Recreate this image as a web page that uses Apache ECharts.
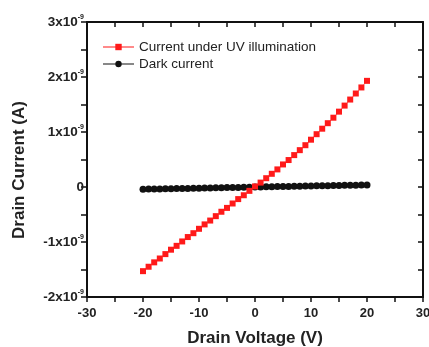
<!DOCTYPE html>
<html>
<head>
<meta charset="utf-8">
<script src="https://cdn.jsdelivr.net/npm/echarts@6/dist/echarts.min.js"></script>
<style>
  html, body { margin: 0; padding: 0; background: #fff; }
  #chart { width: 429px; height: 347px; }
</style>
</head>
<body>
<div id="chart"></div>
<script>
// drain voltage (V), 1 V steps
const voltage = [-20, -19, -18, -17, -16, -15, -14, -13, -12, -11, -10, -9, -8, -7, -6, -5, -4, -3, -2, -1,
  0, 1, 2, 3, 4, 5, 6, 7, 8, 9, 10, 11, 12, 13, 14, 15, 16, 17, 18, 19, 20];
// currents in units of 1e-9 A
const uvCurrent = [-1.53, -1.45, -1.37, -1.30, -1.22, -1.14, -1.07, -0.99, -0.91, -0.84, -0.76, -0.68, -0.61, -0.53, -0.45, -0.38, -0.30, -0.22, -0.15, -0.07,
  0.01, 0.08, 0.16, 0.24, 0.32, 0.41, 0.49, 0.58, 0.67, 0.76, 0.86, 0.96, 1.06, 1.16, 1.26, 1.37, 1.48, 1.59, 1.70, 1.81, 1.93];
const darkCurrent = [-0.040, -0.038, -0.036, -0.035, -0.033, -0.031, -0.029, -0.027, -0.025, -0.023, -0.021, -0.019, -0.017, -0.015, -0.013, -0.011, -0.009, -0.007, -0.005, -0.003,
  -0.001, 0.001, 0.003, 0.005, 0.007, 0.009, 0.011, 0.013, 0.015, 0.017, 0.019, 0.021, 0.023, 0.025, 0.027, 0.029, 0.030, 0.032, 0.034, 0.035, 0.036];
const seriesNames = ['Current under UV illumination', 'Dark current'];
const xTicks = [-30, -20, -10, 0, 10, 20, 30];
const yTicks = [-2, -1, 0, 1, 2, 3];

const font = 'Liberation Sans, Arial, sans-serif';
const axisLine = {show: true, onZero: false, lineStyle: {color: '#111', width: 2}};
const tickStyle = {width: 1.5, color: '#111'};

const myChart = echarts.init(document.getElementById('chart'));
myChart.setOption({
  animation: false,
  grid: {left: 87, right: 6, top: 22, bottom: 50, outerBoundsMode: 'none', containLabel: false},
  legend: {
    left: 102,
    top: 40,
    padding: 0,
    orient: 'vertical',
    itemGap: 3,
    itemWidth: 31,
    itemHeight: 8,
    textStyle: {fontFamily: font, fontSize: 13.5, color: '#222'},
    data: seriesNames
  },
  graphic: [{
    type: 'text',
    x: 19,
    y: 170,
    rotation: Math.PI / 2,
    style: {
      text: 'Drain Current (A)',
      fontFamily: font, fontSize: 17, fontWeight: 'bold', fill: '#222',
      align: 'center', verticalAlign: 'middle'
    }
  }],
  xAxis: [{
    type: 'value',
    min: xTicks[0],
    max: xTicks[xTicks.length - 1],
    interval: 10,
    axisLine: axisLine,
    axisTick: {show: true, inside: false, length: 5, lineStyle: tickStyle},
    minorTick: {show: true, splitNumber: 2, length: 5, lineStyle: tickStyle},
    splitLine: {show: false},
    axisLabel: {fontFamily: font, fontSize: 13, fontWeight: 'bold', color: '#222', margin: 10},
    name: 'Drain Voltage (V)',
    nameLocation: 'middle',
    nameGap: 33,
    nameTextStyle: {fontFamily: font, fontSize: 17, fontWeight: 'bold', color: '#222'}
  }, {
    type: 'value',
    position: 'top',
    min: xTicks[0],
    max: xTicks[xTicks.length - 1],
    interval: 10,
    axisLine: axisLine,
    axisTick: {show: true, inside: true, length: 5, lineStyle: tickStyle},
    minorTick: {show: true, splitNumber: 2, length: 5, lineStyle: tickStyle},
    splitLine: {show: false},
    axisLabel: {show: false}
  }],
  yAxis: [{
    type: 'value',
    min: yTicks[0],
    max: yTicks[yTicks.length - 1],
    interval: 1,
    axisLine: axisLine,
    axisTick: {show: true, inside: false, length: 6, lineStyle: tickStyle},
    minorTick: {show: true, splitNumber: 2, length: 6, lineStyle: tickStyle},
    splitLine: {show: false},
    axisLabel: {
      margin: 3,
      formatter: v => v === 0 ? '{b|0}' : '{b|' + v + 'x10}{s|-9}',
      rich: {
        b: {fontFamily: font, fontSize: 13.5, fontWeight: 'bold', color: '#222'},
        s: {fontFamily: font, fontSize: 7, fontWeight: 'bold', color: '#222', verticalAlign: 'top', padding: [0, 0, 9, 0]}
      }
    }
  }, {
    type: 'value',
    position: 'right',
    min: yTicks[0],
    max: yTicks[yTicks.length - 1],
    interval: 1,
    axisLine: axisLine,
    axisTick: {show: true, inside: true, length: 5, lineStyle: tickStyle},
    minorTick: {show: true, splitNumber: 2, length: 5, lineStyle: tickStyle},
    splitLine: {show: false},
    axisLabel: {show: false}
  }],
  series: [{
    name: seriesNames[0],
    type: 'line',
    data: voltage.map((v, i) => [v, uvCurrent[i]]),
    symbol: 'rect',
    symbolSize: 6,
    color: '#ff1a1a',
    lineStyle: {width: 1, color: '#ff8a8a'},
    z: 3
  }, {
    name: seriesNames[1],
    type: 'line',
    data: voltage.map((v, i) => [v, darkCurrent[i]]),
    symbol: 'circle',
    symbolSize: 7,
    color: '#111',
    lineStyle: {width: 1, color: '#888'},
    z: 2
  }]
});
</script>
</body>
</html>
